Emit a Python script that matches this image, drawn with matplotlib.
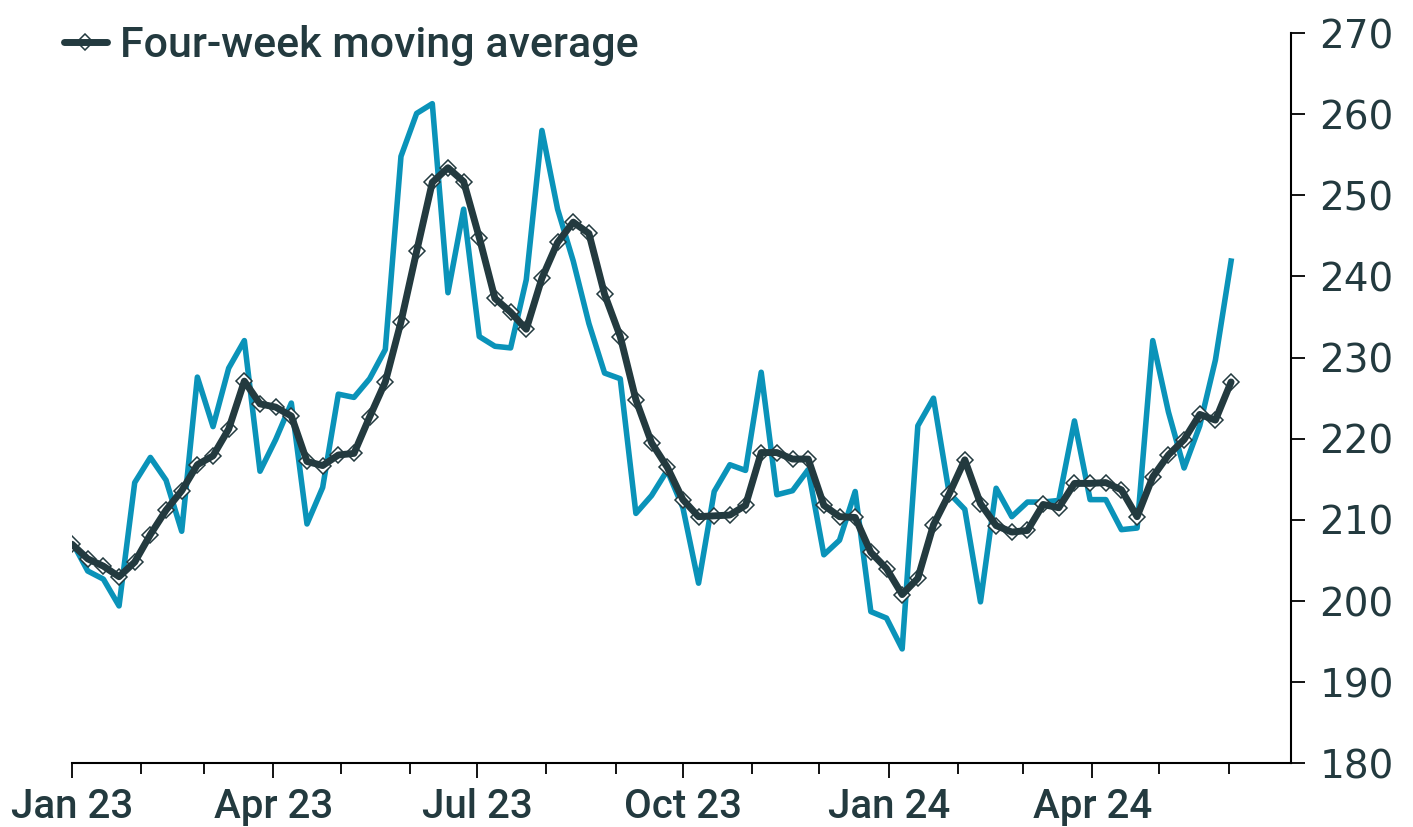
import matplotlib.pyplot as plt
import matplotlib.dates as mdates
from matplotlib.legend_handler import HandlerTuple
import pandas as pd


BLUE = "#0a93b9"
DARK = "#233a3f"

# weekly readings, starting first week of Jan 2023
weeks = pd.date_range("2023-01-01", periods=75, freq="7D")

weekly = [
    207.3, 203.7, 202.7, 199.4, 214.6, 217.7, 214.9, 208.6, 227.6, 221.5,
    228.7, 232.1, 216.0, 219.9, 224.4, 209.5, 214.0, 225.5, 225.1, 227.4,
    231.0, 254.8, 260.1, 261.3, 238.0, 248.3, 232.6, 231.4, 231.2, 239.6,
    258.0, 248.3, 241.9, 234.2, 228.1, 227.4, 210.8, 213.0, 216.1, 211.5,
    202.2, 213.5, 216.8, 216.1, 228.2, 213.1, 213.6, 216.2, 205.7, 207.5,
    213.5, 198.7, 197.9, 194.1, 221.6, 225.0, 213.3, 211.3, 199.9, 213.9,
    210.4, 212.2, 212.2, 212.4, 222.2, 212.5, 212.5, 208.8, 209.0, 232.1,
    223.3, 216.4, 221.6, 229.7, 241.9,
]

four_week_avg = [
    207.0, 205.2, 204.3, 203.0, 204.8, 208.2, 211.2, 213.6, 216.8, 217.9,
    221.2, 227.1, 224.3, 223.9, 222.8, 217.2, 216.7, 218.0, 218.2, 222.7,
    227.0, 234.4, 243.1, 251.6, 253.4, 251.7, 244.8, 237.3, 235.6, 233.5,
    239.8, 244.2, 246.7, 245.3, 237.8, 232.6, 224.8, 219.5, 216.5, 212.5,
    210.4, 210.5, 210.6, 211.8, 218.3, 218.3, 217.5, 217.5, 211.8, 210.4,
    210.3, 206.0, 204.0, 200.8, 202.8, 209.4, 213.2, 217.4, 212.0, 209.3,
    208.5, 208.7, 211.9, 211.5, 214.5, 214.5, 214.6, 213.7, 210.4, 215.3,
    218.0, 219.9, 223.0, 222.3, 227.0,
]

y_ticks = [180, 190, 200, 210, 220, 230, 240, 250, 260, 270]

fig = plt.figure(figsize=(14.13, 8.27), dpi=100)
ax = fig.add_axes([0.051, 0.077, 0.863, 0.883])

ax.plot(weeks, weekly, color=BLUE, lw=4.0, zorder=2)
# diamonds sit under the dark line, like in the original
marks, = ax.plot(weeks, four_week_avg, ls="none", marker="D", markersize=8,
                 markerfacecolor="white", markeredgecolor=DARK,
                 markeredgewidth=1.1, zorder=3)
line, = ax.plot(weeks, four_week_avg, color=DARK, lw=5.0,
                solid_joinstyle="round", solid_capstyle="round", zorder=4)

ax.set_xlim(pd.Timestamp("2023-01-01"), pd.Timestamp("2024-06-29"))
ax.set_ylim(180, 270)

# y axis on the right
ax.yaxis.tick_right()
ax.set_yticks(y_ticks)
ax.tick_params(axis="y", length=10, width=1.3, pad=10, labelsize=28,
               labelcolor=DARK, labelfontfamily="DejaVu Sans")

# quarterly labels, monthly ticks
ax.xaxis.set_major_locator(mdates.MonthLocator(bymonth=[1, 4, 7, 10]))
ax.xaxis.set_major_formatter(mdates.DateFormatter("%b %y"))
ax.xaxis.set_minor_locator(mdates.MonthLocator())
ax.tick_params(axis="x", which="major", length=11, width=1.3, pad=7,
               labelsize=29, labelcolor=DARK, labelfontfamily="Roboto")
ax.tick_params(axis="x", which="minor", length=8, width=1.3)
for lab in ax.get_xticklabels():
    lab.set_fontweight("medium")

for side in ["top", "left"]:
    ax.spines[side].set_visible(False)
for side in ["bottom", "right"]:
    ax.spines[side].set_linewidth(1.5)
    ax.spines[side].set_color("black")

leg = ax.legend([(marks, line)], ["Four-week moving average"],
                handler_map={tuple: HandlerTuple(ndivide=1)},
                loc="upper left", bbox_to_anchor=(0.033, 0.990),
                bbox_transform=fig.transFigure, frameon=False,
                handlelength=1.0, handletextpad=0.3, borderaxespad=0,
                prop={"family": "Roboto", "size": 31, "weight": "medium"})
for t in leg.get_texts():
    t.set_color(DARK)

fig.savefig("out.png", dpi=100)
